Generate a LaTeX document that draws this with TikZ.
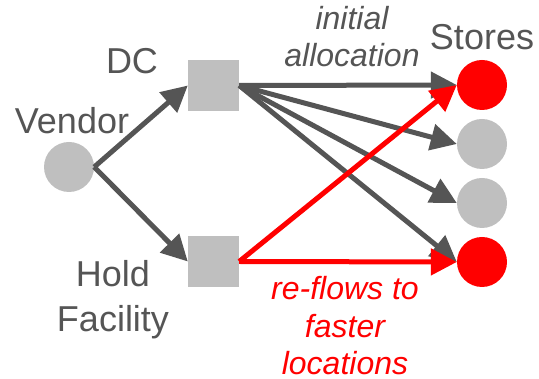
\documentclass[tikz,border=0pt]{standalone}
\usepackage{fontspec}
\setmainfont{Liberation Sans}
\usetikzlibrary{arrows.meta}
\definecolor{ink}{HTML}{555555}
\definecolor{fillgray}{HTML}{BFBFBF}
\definecolor{hot}{HTML}{FF0000}
\tikzset{
  site/.style={circle, fill=fillgray, minimum size=50pt, inner sep=0pt},
  hotsite/.style={site, fill=hot},
  depot/.style={rectangle, fill=fillgray, minimum size=51pt, inner sep=0pt},
  flow/.style={line width=5pt, draw=ink, -{Triangle[length=26pt,width=26pt]}, shorten >=0pt},
  reflow/.style={flow, draw=hot, fill=hot},
  big/.style={font=\fontsize{36}{45}\selectfont, text=ink, inner sep=0pt},
  note/.style={font=\fontsize{32}{37.5}\selectfont\itshape, inner sep=0pt, align=center},
}
\begin{document}
\begin{tikzpicture}[x=1pt, y=-1pt]
\useasboundingbox (0,0) rectangle (539,379);

% nodes
\node[site] (vendor) at (69,167) {};
\node[depot] (dc) at (213.5,85.5) {};
\node[depot] (hold) at (213.5,261.5) {};
\node[hotsite] (s1) at (482,85) {};
\node[site] (s2) at (482,144) {};
\node[site] (s3) at (482,203) {};
\node[hotsite] (s4) at (482,262) {};

% labels (multi-line labels are placed by the baseline of their last line)
\node[big, anchor=base] (lvendor) at (72,134) {Vendor};
\node[big, anchor=base] (ldc) at (132,74) {DC};
\node[big, anchor=base] (lstores) at (482,50) {Stores};
\node[big, anchor=base, align=center] (lhold) at (113,332) {Hold\\Facility};
\node[note, text=ink, anchor=base] (linit) at (352,67) {initial\\allocation};
\node[note, text=hot, anchor=base] (lre) at (345,375) {re-flows to\\faster\\locations};

% supply flows
\draw[flow] (vendor.east) -- (dc.west);
\draw[flow] (vendor.east) -- (hold.west);
\draw[flow] (dc.east) -- (s1.west);
\draw[flow] (dc.east) -- (s2.west);
\draw[flow] (dc.east) -- (s3.west);
\draw[flow] (dc.east) -- (s4.west);

% re-flows from the hold facility
\draw[reflow] (hold.east) -- (s1.west);
\draw[reflow] (hold.east) -- (s4.west);
\end{tikzpicture}
\end{document}
